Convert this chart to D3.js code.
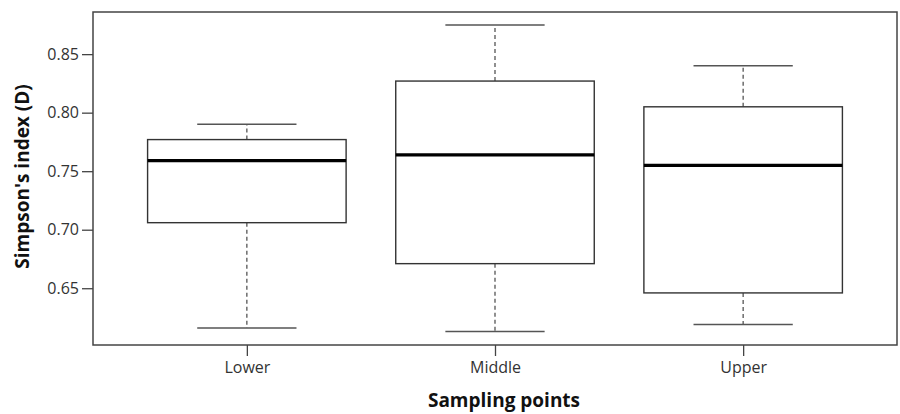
<!DOCTYPE html>
<html>
<head>
<meta charset="utf-8">
<script src="https://cdnjs.cloudflare.com/ajax/libs/d3/7.8.5/d3.min.js"></script>
<style>
  body { margin: 0; background: #fff; }
  #chart text { font-family: "Open Sans", "Noto Sans", sans-serif; }
</style>
</head>
<body>
<div id="chart"></div>
<script>
  // values
  var categories = ["Lower", "Middle", "Upper"];
  var whiskerLow  = [0.616, 0.613, 0.619];
  var q1          = [0.706, 0.671, 0.646];
  var medians     = [0.759, 0.764, 0.755];
  var q3          = [0.777, 0.827, 0.805];
  var whiskerHigh = [0.790, 0.875, 0.840];
  var yTicks = [0.65, 0.70, 0.75, 0.80, 0.85];

  var width = 900, height = 414;
  // note: "top" is a reserved window global, so plot edges get their own names
  var plotL = 93, plotR = 897, plotT = 12, plotB = 345;

  var svg = d3.select("#chart").append("svg")
      .attr("width", width)
      .attr("height", height);

  // R-style x range: 0.5..3.5 padded 4%
  var x = d3.scaleLinear().domain([0.38, 3.62]).range([plotL, plotR]);
  var y = d3.scaleLinear().domain([0.6015, 0.886]).range([plotB, plotT]);

  var boxW = 0.8, capW = 0.4;

  var boxes = categories.map(function(c, i) {
    return { name: c, pos: i + 1, lo: whiskerLow[i], q1: q1[i], med: medians[i], q3: q3[i], hi: whiskerHigh[i] };
  });

  var g = svg.selectAll(".box").data(boxes).enter().append("g").attr("class", "box");

  // dashed whiskers
  g.append("line")
      .attr("x1", function(d) { return x(d.pos); })
      .attr("x2", function(d) { return x(d.pos); })
      .attr("y1", function(d) { return y(d.q3); })
      .attr("y2", function(d) { return y(d.hi); })
      .attr("stroke", "#555").attr("stroke-width", 1.3).attr("stroke-dasharray", "4,3");
  g.append("line")
      .attr("x1", function(d) { return x(d.pos); })
      .attr("x2", function(d) { return x(d.pos); })
      .attr("y1", function(d) { return y(d.q1); })
      .attr("y2", function(d) { return y(d.lo); })
      .attr("stroke", "#555").attr("stroke-width", 1.3).attr("stroke-dasharray", "4,3");

  // caps
  ["hi", "lo"].forEach(function(k) {
    g.append("line")
        .attr("x1", function(d) { return x(d.pos - capW / 2); })
        .attr("x2", function(d) { return x(d.pos + capW / 2); })
        .attr("y1", function(d) { return y(d[k]); })
        .attr("y2", function(d) { return y(d[k]); })
        .attr("stroke", "#555").attr("stroke-width", 1.5);
  });

  // boxes
  g.append("rect")
      .attr("x", function(d) { return x(d.pos - boxW / 2); })
      .attr("width", function(d) { return x(d.pos + boxW / 2) - x(d.pos - boxW / 2); })
      .attr("y", function(d) { return y(d.q3); })
      .attr("height", function(d) { return y(d.q1) - y(d.q3); })
      .attr("fill", "#fff").attr("stroke", "#333").attr("stroke-width", 1.4);

  // medians
  g.append("line")
      .attr("x1", function(d) { return x(d.pos - boxW / 2); })
      .attr("x2", function(d) { return x(d.pos + boxW / 2); })
      .attr("y1", function(d) { return y(d.med); })
      .attr("y2", function(d) { return y(d.med); })
      .attr("stroke", "#000").attr("stroke-width", 3.2);

  // frame
  svg.append("rect")
      .attr("x", plotL).attr("y", plotT)
      .attr("width", plotR - plotL).attr("height", plotB - plotT)
      .attr("fill", "none").attr("stroke", "#444").attr("stroke-width", 1.5);

  // axes
  var yAxis = svg.append("g")
      .attr("transform", "translate(" + plotL + ",0)")
      .call(d3.axisLeft(y).tickValues(yTicks).tickFormat(d3.format(".2f")).tickSize(11).tickPadding(3));
  yAxis.select(".domain").remove();
  yAxis.selectAll("line").attr("stroke", "#444").attr("stroke-width", 1.3);
  yAxis.selectAll("text").attr("font-size", 16).attr("fill", "#333");

  var xAxis = svg.append("g")
      .attr("transform", "translate(0," + plotB + ")")
      .call(d3.axisBottom(x).tickValues([1, 2, 3])
        .tickFormat(function(d) { return categories[d - 1]; }).tickSize(11).tickPadding(6));
  xAxis.select(".domain").remove();
  xAxis.selectAll("line").attr("stroke", "#444").attr("stroke-width", 1.3);
  xAxis.selectAll("text").attr("font-size", 16).attr("fill", "#333");

  // titles
  svg.append("text")
      .attr("x", (plotL + plotR) / 2 + 9).attr("y", 407)
      .attr("text-anchor", "middle")
      .attr("font-size", 19).attr("font-weight", "bold").attr("fill", "#111")
      .text("Sampling points");

  svg.append("text")
      .attr("transform", "translate(29," + ((plotT + plotB) / 2 - 2) + ") rotate(-90)")
      .attr("text-anchor", "middle")
      .attr("font-size", 19).attr("font-weight", "bold").attr("fill", "#111")
      .text("Simpson's index (D)");
</script>
</body>
</html>
